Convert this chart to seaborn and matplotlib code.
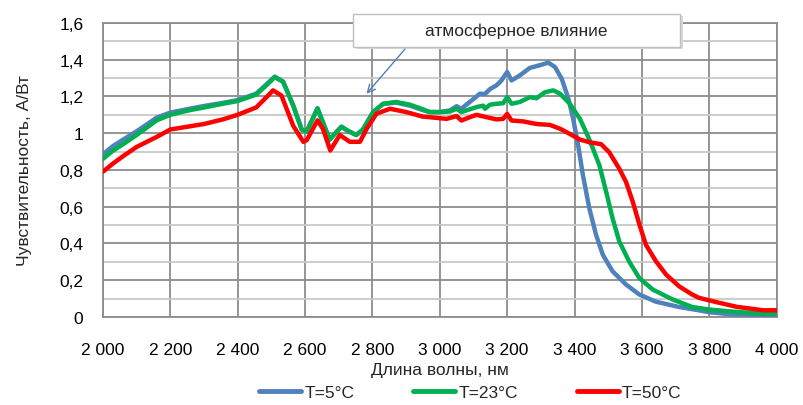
import matplotlib
matplotlib.use("Agg")
import matplotlib.pyplot as plt
import seaborn as sns
import pandas as pd
from matplotlib.patches import Rectangle
from matplotlib.ticker import MultipleLocator, FuncFormatter

# ---- data ----
x_5 = [2000, 2030, 2060, 2100, 2160, 2200, 2257, 2300, 2356, 2400, 2455, 2485, 2510, 2535, 2565,
       2590, 2605, 2637, 2653, 2673, 2690, 2708, 2730, 2752, 2772, 2802, 2832, 2871, 2911, 2950,
       2970, 3000, 3030, 3050, 3064, 3089, 3119, 3134, 3149, 3168, 3183, 3200, 3213, 3238, 3267,
       3297, 3322, 3342, 3362, 3382, 3396, 3411, 3425, 3444, 3464, 3484, 3513, 3553, 3592, 3641,
       3710, 3769, 3802, 3861, 3960, 4000]
y_5 = [0.885, 0.93, 0.965, 1.01, 1.085, 1.112, 1.133, 1.148, 1.165, 1.18, 1.215, 1.265, 1.308, 1.28, 1.15,
       1.02, 1.008, 1.135, 1.06, 0.965, 1.0, 1.035, 1.01, 0.99, 1.02, 1.115, 1.16, 1.166, 1.15, 1.125,
       1.115, 1.115, 1.124, 1.147, 1.133, 1.17, 1.215, 1.213, 1.24, 1.26, 1.287, 1.333, 1.287, 1.315, 1.355,
       1.37, 1.384, 1.36, 1.296, 1.187, 1.078, 0.93, 0.77, 0.59, 0.446, 0.338, 0.248, 0.176, 0.122, 0.083,
       0.054, 0.036, 0.025, 0.015, 0.01, 0.01]

x_23 = [2000, 2030, 2060, 2100, 2160, 2200, 2257, 2300, 2356, 2400, 2455, 2485, 2510, 2535, 2565,
        2590, 2605, 2637, 2653, 2673, 2690, 2708, 2730, 2752, 2772, 2802, 2832, 2871, 2911, 2950,
        2970, 3000, 3030, 3050, 3064, 3089, 3109, 3129, 3134, 3149, 3168, 3188, 3200, 3213, 3238,
        3267, 3287, 3312, 3337, 3357, 3386, 3416, 3441, 3458, 3474, 3494, 3513, 3533, 3562, 3592,
        3632, 3691, 3749, 3800, 3881, 3960, 4000]
y_23 = [0.86, 0.905, 0.94, 0.99, 1.07, 1.1, 1.125, 1.14, 1.16, 1.175, 1.21, 1.26, 1.305, 1.28, 1.15,
        1.02, 1.01, 1.135, 1.06, 0.965, 1.0, 1.035, 1.01, 0.99, 1.02, 1.115, 1.16, 1.17, 1.155, 1.13,
        1.115, 1.115, 1.118, 1.133, 1.115, 1.13, 1.142, 1.15, 1.133, 1.155, 1.16, 1.163, 1.196, 1.16, 1.17,
        1.196, 1.19, 1.223, 1.233, 1.215, 1.16, 1.078, 0.978, 0.9, 0.824, 0.68, 0.536, 0.41, 0.302, 0.212,
        0.149, 0.095, 0.054, 0.04, 0.027, 0.018, 0.018]

x_50 = [2000, 2030, 2060, 2100, 2160, 2200, 2257, 2300, 2356, 2400, 2455, 2485, 2505, 2530, 2565,
        2595, 2605, 2637, 2653, 2675, 2703, 2733, 2763, 2783, 2812, 2852, 2900, 2950, 2970, 3020,
        3050, 3064, 3089, 3109, 3139, 3168, 3188, 3200, 3213, 3248, 3287, 3327, 3357, 3386, 3416,
        3446, 3479, 3503, 3533, 3553, 3573, 3593, 3612, 3642, 3672, 3710, 3749, 3769, 3822, 3881,
        3960, 4000]
y_50 = [0.79, 0.835, 0.875, 0.925, 0.98, 1.02, 1.037, 1.05, 1.075, 1.1, 1.14, 1.195, 1.233, 1.205, 1.04,
        0.953, 0.962, 1.07, 1.024, 0.906, 0.99, 0.953, 0.953, 1.024, 1.106, 1.133, 1.115, 1.09, 1.087, 1.078,
        1.093, 1.069, 1.087, 1.1, 1.087, 1.075, 1.078, 1.105, 1.069, 1.064, 1.05, 1.045, 1.024, 0.996, 0.965,
        0.95, 0.94, 0.896, 0.806, 0.734, 0.626, 0.5, 0.392, 0.302, 0.23, 0.167, 0.122, 0.104, 0.08, 0.055,
        0.036, 0.036]

series_names = ["T=5°C", "T=23°C", "T=50°C"]
colors = ["#4F81BD", "#00B050", "#FF0000"]
x_ticks = [2000, 2200, 2400, 2600, 2800, 3000, 3200, 3400, 3600, 3800, 4000]
y_ticks = [0, 0.2, 0.4, 0.6, 0.8, 1.0, 1.2, 1.4, 1.6]
annotation_text = "атмосферное влияние"
x_label = "Длина волны, нм"
y_label = "Чувствительность, А/Вт"

df = pd.concat([
    pd.DataFrame({"x": x_5, "y": y_5, "s": series_names[0]}),
    pd.DataFrame({"x": x_23, "y": y_23, "s": series_names[1]}),
    pd.DataFrame({"x": x_50, "y": y_50, "s": series_names[2]}),
], ignore_index=True)

sns.set_style("white")
plt.rcParams["font.family"] = ["Liberation Sans Narrow", "Liberation Sans", "DejaVu Sans"]

fig = plt.figure(figsize=(8.04, 4.06), dpi=100)
ax = fig.add_axes([0.128, 0.217, 0.838, 0.724])

sns.lineplot(data=df, x="x", y="y", hue="s", palette=dict(zip(series_names, colors)),
             linewidth=3.2, ax=ax, sort=False, legend=False, zorder=3)

ax.set_xlim(2000, 4000)
ax.set_ylim(0, 1.6)
ax.set_xticks(x_ticks)
ax.set_yticks(y_ticks)
ax.yaxis.set_minor_locator(MultipleLocator(0.1))
ax.xaxis.set_major_formatter(FuncFormatter(lambda v, p: f"{int(v):,}".replace(",", " ")))
ax.yaxis.set_major_formatter(FuncFormatter(lambda v, p: (f"{v:.1f}".rstrip("0").rstrip(".")).replace(".", ",")))

ax.grid(True, which="major", axis="both", color="#8c8c8c", linewidth=1.3, zorder=0)
ax.grid(True, which="minor", axis="y", color="#c8c8c8", linewidth=1.3, zorder=0)
for sp in ax.spines.values():
    sp.set_color("#8c8c8c")
    sp.set_linewidth(1.3)
ax.tick_params(axis="both", which="major", direction="out", length=5, width=1.3,
               color="#8c8c8c", labelsize=12.5, colors="#8c8c8c", labelcolor="black")
ax.tick_params(axis="y", which="minor", length=0)
ax.tick_params(axis="x", pad=13)
ax.tick_params(axis="y", pad=9)

ax.set_xlabel(x_label, fontsize=12.5, labelpad=4)
ax.set_ylabel(y_label, fontsize=12.5, labelpad=20)

# annotation box
shadow = Rectangle((2752, 1.459), 970, 0.18, transform=ax.transData, facecolor="#d9d9d9",
                   edgecolor="none", clip_on=False, zorder=4)
box = Rectangle((2742, 1.469), 970, 0.18, transform=ax.transData, facecolor="white",
                edgecolor="#bfbfbf", linewidth=1, clip_on=False, zorder=5)
ax.add_patch(shadow)
ax.add_patch(box)
ax.text(3227, 1.559, annotation_text, ha="center", va="center", fontsize=12.5, zorder=6)
ax.annotate("", xy=(2777, 1.203), xytext=(2902, 1.469),
            arrowprops=dict(arrowstyle="->", color="#4F81BD", lw=1, mutation_scale=14), zorder=6)

handles = [plt.Line2D([], [], color=c, linewidth=3.5) for c in colors]
fig.legend(handles, series_names, loc="center", bbox_to_anchor=(0.585, 0.032), ncol=3,
           frameon=False, fontsize=12.5, handlelength=2.4, handletextpad=0.2, columnspacing=3.4)

fig.savefig("out.png", dpi=100)
